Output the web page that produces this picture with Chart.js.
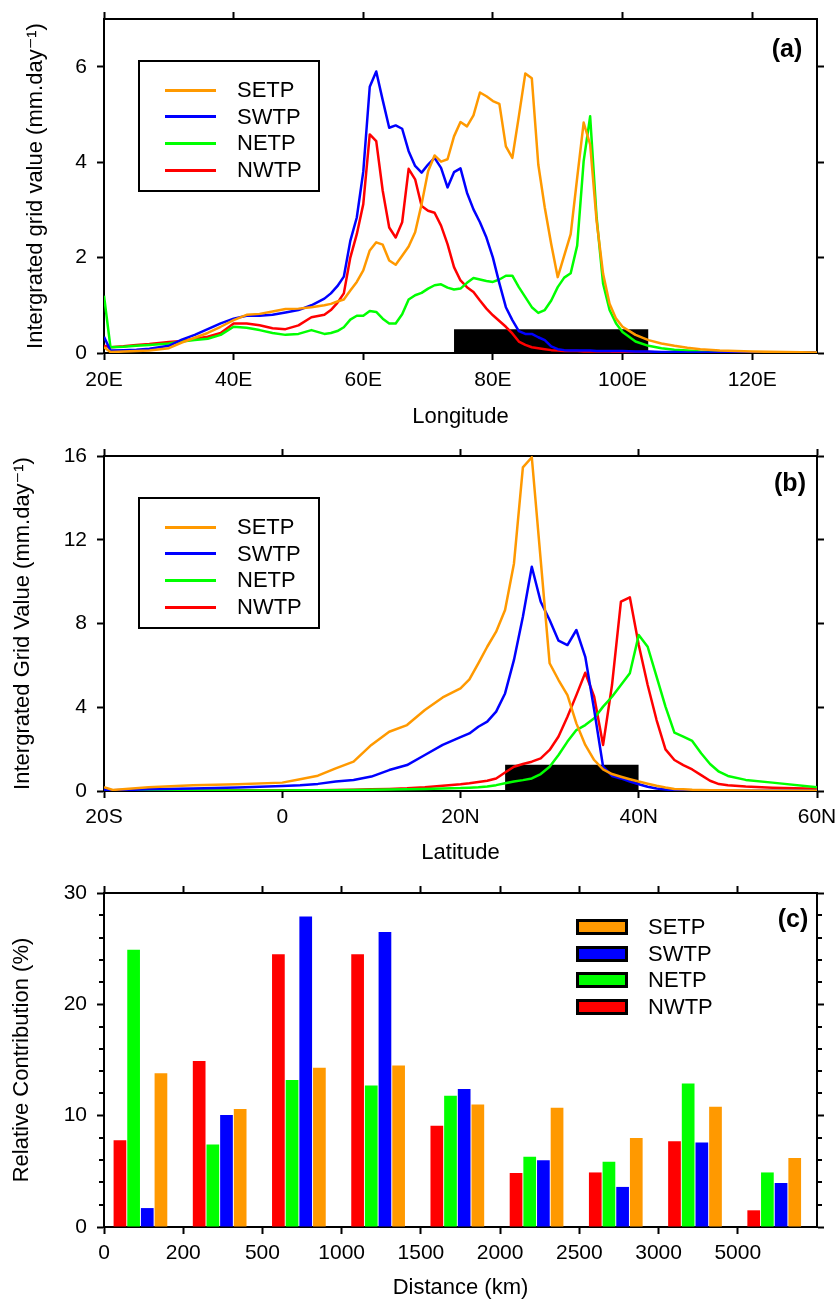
<!DOCTYPE html>
<html>
<head>
<meta charset="utf-8">
<script src="https://cdn.jsdelivr.net/npm/chart.js@4.4.1/dist/chart.umd.min.js"></script>
<style>
  body { margin: 0; background: #fff; }
  #page { position: relative; width: 838px; height: 1301px; font-family: "Liberation Sans", Arial, sans-serif; color: #000; }
  canvas { position: absolute; left: 0; }
  .lbox { position: absolute; left: 138px; width: 182px; height: 132px; border: 2px solid #000; box-sizing: border-box; }
  .lrow { position: absolute; left: 0; height: 0; }
  .sample { position: absolute; left: 25px; width: 51px; height: 3px; top: -1.5px; }
  .ltext { position: absolute; top: 0; font-size: 22px; line-height: 1; transform: translateY(-50%); white-space: nowrap; }
  .swatch { position: absolute; left: 576px; width: 52px; height: 16px; border: 3px solid #000; box-sizing: border-box; }
  .tag { position: absolute; font-weight: bold; font-size: 25px; line-height: 1; transform: translate(-50%, -50%); }
</style>
</head>
<body>
<div id="page">
  <canvas id="chartA" width="838" height="430" style="top:0px"></canvas>
  <canvas id="chartB" width="838" height="440" style="top:430px"></canvas>
  <canvas id="chartC" width="838" height="431" style="top:870px"></canvas>
</div>
<script>
const seriesNames = ['SETP', 'SWTP', 'NETP', 'NWTP'];
const seriesColors = ['#ff9900', '#0000ff', '#00ff00', '#ff0000'];

// (a) longitude profiles
const lonA = [20, 21, 23, 25, 27, 30, 32, 34, 36, 38, 40, 42, 44, 46, 48, 50, 52, 54, 55, 56,
  57, 58, 59, 60, 61, 62, 63, 64, 65, 66, 67, 68, 69, 70, 71, 72, 73, 74, 75, 76, 77, 78, 79, 80,
  81, 82, 83, 84, 85, 86, 87, 88, 89, 90, 91, 92, 93, 94, 95, 96, 97, 98, 99, 100,
  102, 104, 106, 108, 110, 112, 115, 120, 125, 130];
const setpA = [0.12, 0.02, 0.03, 0.04, 0.05, 0.1, 0.22, 0.32, 0.42, 0.55, 0.69, 0.8, 0.82, 0.87, 0.92, 0.93, 0.96, 1.0, 1.03, 1.08,
  1.12, 1.31, 1.49, 1.73, 2.15, 2.32, 2.27, 1.94, 1.85, 2.04, 2.23, 2.53, 3.12, 3.81, 4.14, 4.01, 4.06, 4.54, 4.84, 4.75, 4.98, 5.46, 5.38, 5.28,
  5.22, 4.33, 4.09, 4.96, 5.86, 5.76, 3.95, 3.05, 2.28, 1.59, 2.04, 2.49, 3.67, 4.83, 4.37, 2.77, 1.66, 1.03, 0.72, 0.55,
  0.38, 0.27, 0.2, 0.15, 0.11, 0.08, 0.05, 0.03, 0.02, 0.01];
const swtpA = [0.34, 0.05, 0.06, 0.07, 0.09, 0.15, 0.28, 0.38, 0.5, 0.62, 0.72, 0.78, 0.78, 0.8, 0.85, 0.9, 1.0, 1.14, 1.25, 1.4,
  1.6, 2.35, 2.84, 3.8, 5.58, 5.9, 5.3, 4.72, 4.77, 4.7, 4.23, 3.92, 3.78, 3.95, 4.09, 3.88, 3.47, 3.79, 3.87, 3.36, 3.01, 2.74, 2.42, 2.0,
  1.46, 0.96, 0.69, 0.46, 0.4, 0.4, 0.33, 0.27, 0.14, 0.08, 0.06, 0.05, 0.05, 0.05, 0.05, 0.04, 0.04, 0.04, 0.04, 0.04,
  0.03, 0.03, 0.02, 0.02, 0.01, 0.01, 0.01, 0.01, 0.01, 0.01];
const netpA = [1.2, 0.12, 0.13, 0.15, 0.17, 0.2, 0.24, 0.27, 0.3, 0.38, 0.55, 0.53, 0.48, 0.42, 0.38, 0.4, 0.48, 0.4, 0.42, 0.46,
  0.54, 0.7, 0.78, 0.78, 0.88, 0.86, 0.72, 0.62, 0.62, 0.81, 1.12, 1.21, 1.26, 1.35, 1.42, 1.44, 1.37, 1.33, 1.35, 1.47, 1.57, 1.54, 1.51, 1.49,
  1.54, 1.62, 1.62, 1.38, 1.17, 0.96, 0.84, 0.9, 1.1, 1.38, 1.58, 1.67, 2.25, 4.02, 4.96, 2.84, 1.45, 0.9, 0.62, 0.44,
  0.24, 0.15, 0.1, 0.07, 0.05, 0.03, 0.02, 0.01, 0.01, 0.01];
const nwtpA = [0.15, 0.12, 0.14, 0.17, 0.19, 0.23, 0.25, 0.3, 0.34, 0.42, 0.62, 0.62, 0.58, 0.52, 0.5, 0.58, 0.75, 0.8, 0.9, 1.05,
  1.25, 2.0, 2.49, 3.12, 4.58, 4.44, 3.4, 2.63, 2.42, 2.74, 3.86, 3.64, 3.08, 2.98, 2.94, 2.67, 2.28, 1.8, 1.52, 1.38, 1.28, 1.1, 0.93, 0.79,
  0.67, 0.55, 0.41, 0.24, 0.17, 0.12, 0.1, 0.08, 0.06, 0.05, 0.04, 0.04, 0.04, 0.03, 0.03, 0.03, 0.03, 0.03, 0.02, 0.02,
  0.02, 0.02, 0.01, 0.01, 0.01, 0.01, 0.01, 0.01, 0.01, 0.01];
const boxLonA = [74, 104];
const boxTopA = 0.5;

// (b) latitude profiles
const latB = [-20, -19, -15, -10, -5, 0, 2, 4, 6, 8, 10, 12, 14, 16, 18,
  20, 21, 22, 23, 24, 25, 26, 27, 28, 29, 30, 31, 32, 33, 34, 35, 36, 37, 38, 39, 40,
  41, 42, 43, 44, 45, 46, 47, 48, 49, 50, 52, 55, 60];
const setpB = [0.18, 0.05, 0.18, 0.27, 0.32, 0.4, 0.56, 0.73, 1.08, 1.4, 2.2, 2.83, 3.15, 3.87, 4.47,
  4.9, 5.33, 6.1, 6.89, 7.61, 8.64, 10.87, 15.46, 15.94, 11.03, 6.1, 5.3, 4.58, 3.23, 2.2, 1.48, 1.03, 0.81, 0.68, 0.56, 0.45,
  0.35, 0.25, 0.17, 0.1, 0.08, 0.06, 0.05, 0.04, 0.03, 0.03, 0.02, 0.01, 0.01];
const swtpB = [0.05, 0.03, 0.08, 0.12, 0.17, 0.24, 0.28, 0.34, 0.45, 0.53, 0.69, 1.0, 1.24, 1.72, 2.2,
  2.57, 2.75, 3.07, 3.31, 3.79, 4.66, 6.26, 8.32, 10.71, 9.04, 8.17, 7.18, 6.97, 7.69, 6.41, 3.87, 1.16, 0.72, 0.6, 0.45, 0.32,
  0.2, 0.12, 0.07, 0.04, 0.03, 0.02, 0.01, 0.01, 0.01, 0.01, 0.01, 0.01, 0.01];
const netpB = [0.02, 0.02, 0.02, 0.02, 0.02, 0.02, 0.03, 0.03, 0.04, 0.05, 0.06, 0.07, 0.08, 0.1, 0.12,
  0.14, 0.16, 0.18, 0.22, 0.28, 0.37, 0.45, 0.52, 0.6, 0.81, 1.16, 1.72, 2.36, 2.91, 3.15, 3.47, 4.03, 4.5, 5.06, 5.62, 7.45,
  6.89, 5.46, 4.03, 2.79, 2.6, 2.39, 1.8, 1.29, 0.92, 0.72, 0.53, 0.4, 0.18];
const nwtpB = [0.02, 0.02, 0.02, 0.02, 0.03, 0.03, 0.03, 0.04, 0.05, 0.06, 0.08, 0.1, 0.13, 0.18, 0.25,
  0.32, 0.37, 0.43, 0.49, 0.6, 0.88, 1.16, 1.29, 1.4, 1.56, 1.96, 2.6, 3.55, 4.58, 5.65, 4.5, 2.2, 5.06, 9.04, 9.25, 6.97,
  5.06, 3.39, 1.99, 1.48, 1.24, 1.03, 0.76, 0.49, 0.33, 0.28, 0.21, 0.16, 0.11];
const boxLatB = [25, 40];
const boxTopB = 1.25;

// (c) relative contribution per distance bin
const distLabels = ['0', '200', '500', '1000', '1500', '2000', '2500', '3000', '5000'];
const setpC = [13.8, 10.6, 14.3, 14.5, 11.0, 10.7, 8.0, 10.8, 6.2];
const swtpC = [1.7, 10.06, 27.9, 26.5, 12.4, 6.0, 3.6, 7.6, 3.95];
const netpC = [24.9, 7.4, 13.2, 12.7, 11.8, 6.3, 5.85, 12.9, 4.9];
const nwtpC = [7.8, 14.9, 24.5, 24.5, 9.1, 4.85, 4.9, 7.7, 1.5];

const FONT = '"Liberation Sans", Arial, "DejaVu Sans", sans-serif';

function axis(position, min, max, step, o) {
  const horizontal = position === 'top' || position === 'bottom';
  return {
    type: 'linear',
    position: position,
    min: min,
    max: max,
    offset: false,
    ticks: {
      display: !!o.label,
      stepSize: step,
      autoSkip: false,
      maxRotation: 0,
      callback: o.label || (() => ''),
      color: '#000',
      font: { family: FONT, size: 21 },
      padding: o.pad || 0
    },
    afterBuildTicks: s => { s.ticks = s.ticks.filter(t => o.keep(t.value)); },
    grid: { offset: false, drawOnChartArea: false, drawTicks: true, tickLength: 7, tickWidth: 2, tickColor: '#000' },
    border: { display: true, color: '#000', width: 2 },
    title: o.title
      ? { display: true, text: o.title, color: '#000', font: { family: FONT, size: 22 }, padding: { top: o.titlePad, bottom: o.titlePad } }
      : { display: false },
    afterFit: s => {
      if (horizontal) s.height = o.size; else s.width = o.size;
      // fixed frame: labels never push the plot area
      s.paddingTop = s.paddingBottom = s.paddingLeft = s.paddingRight = 0;
    }
  };
}

const onStep = (min, step) => v => Math.abs((v - min) / step - Math.round((v - min) / step)) < 1e-6;

function linePanel(id, xs, series, boxX, boxTop, scales) {
  const datasets = series.map((vals, i) => ({
    label: seriesNames[i],
    data: xs.map((x, j) => ({ x: x, y: vals[j] })),
    borderColor: seriesColors[i],
    borderWidth: 2.5,
    borderJoinStyle: 'round',
    pointRadius: 0,
    tension: 0,
    fill: false,
    order: 0
  }));
  datasets.push({
    label: 'region',
    data: boxX.map(x => ({ x: x, y: boxTop })),
    borderColor: 'rgba(0,0,0,0)',
    borderWidth: 0,
    backgroundColor: '#000',
    pointRadius: 0,
    fill: 'origin',
    order: 1
  });
  return new Chart(document.getElementById(id), {
    type: 'line',
    data: { datasets: datasets },
    options: {
      responsive: false,
      animation: false,
      layout: { autoPadding: false, padding: 0 },
      plugins: { legend: { display: false }, tooltip: { enabled: false } },
      scales: scales
    }
  });
}

linePanel('chartA', lonA, [setpA, swtpA, netpA, nwtpA], boxLonA, boxTopA, {
  x: axis('bottom', 20, 130, 20, { label: v => v + 'E', keep: onStep(20, 20), pad: 8, size: 77, title: 'Longitude', titlePad: 0 }),
  x2: axis('top', 20, 130, 20, { keep: onStep(20, 20), size: 19 }),
  y: axis('left', 0, 7, 2, { label: v => v, keep: onStep(0, 2), pad: 10, size: 104, title: 'Intergrated grid value (mm.day\u207B\u00B9)', titlePad: 23 }),
  y2: axis('right', 0, 7, 2, { keep: onStep(0, 2), size: 21 })
});

const latLabel = v => v < 0 ? (-v) + 'S' : v > 0 ? v + 'N' : '0';
linePanel('chartB', latB, [setpB, swtpB, netpB, nwtpB], boxLatB, boxTopB, {
  x: axis('bottom', -20, 60, 20, { label: latLabel, keep: onStep(-20, 20), pad: 7, size: 79, title: 'Latitude', titlePad: 4 }),
  x2: axis('top', -20, 60, 20, { keep: onStep(-20, 20), size: 26 }),
  y: axis('left', 0, 16, 4, { label: v => v, keep: onStep(0, 4), pad: 10, size: 104, title: 'Intergrated Grid Value (mm.day\u207B\u00B9)', titlePad: 10 }),
  y2: axis('right', 0, 16, 4, { keep: onStep(0, 4), size: 21 })
});

// minor ticks every 2 % on both sides of panel (c)
const minorTicks = {
  id: 'minorTicks',
  afterDraw(chart) {
    const { ctx, chartArea: a, scales: { y } } = chart;
    ctx.save();
    ctx.strokeStyle = '#000';
    ctx.lineWidth = 2;
    for (let v = 2; v < y.max; v += 2) {
      if (v % 10 === 0) continue;
      const py = Math.round(y.getPixelForValue(v));
      ctx.beginPath();
      ctx.moveTo(a.left - 5, py); ctx.lineTo(a.left, py);
      ctx.moveTo(a.right, py); ctx.lineTo(a.right + 5, py);
      ctx.stroke();
    }
    ctx.restore();
  }
};

const binCentre = 0.46;
const barSeries = [[nwtpC, 3], [netpC, 2], [swtpC, 1], [setpC, 0]];
new Chart(document.getElementById('chartC'), {
  type: 'bar',
  data: {
    datasets: barSeries.map(([vals, k]) => ({
      label: seriesNames[k],
      data: vals.map((v, i) => ({ x: i + binCentre, y: v })),
      backgroundColor: seriesColors[k],
      borderWidth: 0,
      categoryPercentage: 0.69,
      barPercentage: 0.93
    }))
  },
  options: {
    responsive: false,
    animation: false,
    layout: { autoPadding: false, padding: 0 },
    plugins: { legend: { display: false }, tooltip: { enabled: false } },
    scales: {
      x: axis('bottom', 0, 9, 1, { label: v => distLabels[v] ?? '', keep: v => v < 9, pad: 7, size: 74, title: 'Distance (km)', titlePad: 0 }),
      x2: axis('top', 0, 9, 1, { keep: v => v < 9, size: 23 }),
      y: axis('left', 0, 30, 10, { label: v => v, keep: onStep(0, 10), pad: 10, size: 104, title: 'Relative Contribution (%)', titlePad: 9 }),
      y2: axis('right', 0, 30, 10, { keep: onStep(0, 10), size: 21 })
    }
  },
  plugins: [minorTicks]
});

// legends and panel tags
const page = document.getElementById('page');

function lineLegend(top) {
  const box = document.createElement('div');
  box.className = 'lbox';
  box.style.top = top + 'px';
  seriesNames.forEach((name, i) => {
    const row = document.createElement('div');
    row.className = 'lrow';
    row.style.top = (28 + i * 26.7) + 'px';
    row.innerHTML = '<span class="sample" style="background:' + seriesColors[i] + '"></span>' +
      '<span class="ltext" style="left:97px">' + name + '</span>';
    box.appendChild(row);
  });
  page.appendChild(box);
}
lineLegend(60);
lineLegend(497);

seriesNames.forEach((name, i) => {
  const cy = 927 + i * 26.7;
  const sw = document.createElement('div');
  sw.className = 'swatch';
  sw.style.top = (cy - 8) + 'px';
  sw.style.background = seriesColors[i];
  page.appendChild(sw);
  const t = document.createElement('div');
  t.className = 'ltext';
  t.style.left = '648px';
  t.style.top = cy + 'px';
  t.textContent = name;
  page.appendChild(t);
});

[['(a)', 787, 48], ['(b)', 790, 482], ['(c)', 793, 918]].forEach(([txt, x, y]) => {
  const d = document.createElement('div');
  d.className = 'tag';
  d.style.left = x + 'px';
  d.style.top = y + 'px';
  d.textContent = txt;
  page.appendChild(d);
});
</script>
</body>
</html>
